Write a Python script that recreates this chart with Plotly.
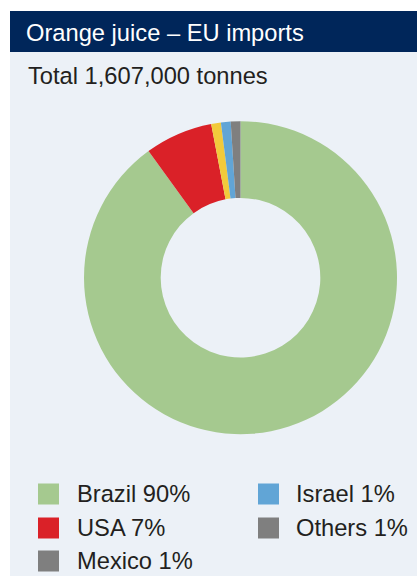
import plotly.graph_objects as go

# EU orange juice imports by origin (share of total, %)
origins = ["Brazil", "USA", "Mexico", "Israel", "Others"]
shares = [90, 7, 1, 1, 1]
total_tonnes = 1607000

slice_colors = ["#a5c98f", "#da2128", "#f2ca3c", "#61a5d6", "#7f7f7f"]
key_colors = ["#a5c98f", "#da2128", "#7f7f7f", "#61a5d6", "#7f7f7f"]

W, H = 417, 576
NAVY = "#00265a"
PANEL = "#ecf1f7"
INK = "#231f20"
FONT = "Liberation Sans, Arial, sans-serif"
FS = 23.7


def px_x(x):
    return x / W


def px_y(y):
    return 1 - y / H


fig = go.Figure()

# donut, centred at (240.5, 277.7) px with outer radius 156.5 px
cx, cy, r = 240.5, 277.7, 156.5
fig.add_trace(go.Pie(
    labels=origins,
    values=shares,
    hole=0.51,
    sort=False,
    direction="clockwise",
    rotation=0,
    marker=dict(colors=slice_colors, line=dict(width=0)),
    textinfo="none",
    hoverinfo="label+percent",
    showlegend=False,
    domain=dict(x=[px_x(cx - r), px_x(cx + r)], y=[px_y(cy + r), px_y(cy - r)]),
))

shapes = [
    # panel background and header bar
    dict(type="rect", xref="paper", yref="paper", x0=px_x(10), x1=1, y0=0, y1=px_y(11),
         fillcolor=PANEL, line=dict(width=0), layer="below"),
    dict(type="rect", xref="paper", yref="paper", x0=px_x(10), x1=1, y0=px_y(52), y1=px_y(11),
         fillcolor=NAVY, line=dict(width=0), layer="below"),
]

annotations = [
    dict(text="Orange juice – EU imports", x=px_x(24), y=px_y(33), xref="paper", yref="paper",
         xanchor="left", yanchor="middle", showarrow=False,
         font=dict(family=FONT, size=FS, color="white")),
    dict(text=f"Total {total_tonnes:,} tonnes", x=px_x(25.5), y=px_y(76), xref="paper", yref="paper",
         xanchor="left", yanchor="middle", showarrow=False,
         font=dict(family=FONT, size=FS, color=INK)),
]

# two-column key, filled column by column
col_swatch_x = [38, 258]
col_text_x = [74.5, 293.5]
row_y = [494, 528, 561]
sw = 21
for i, (name, pct) in enumerate(zip(origins, shares)):
    col, row = divmod(i, 3)
    x0 = col_swatch_x[col]
    yc = row_y[row]
    shapes.append(dict(type="rect", xref="paper", yref="paper",
                       x0=px_x(x0), x1=px_x(x0 + sw),
                       y0=px_y(yc + sw / 2), y1=px_y(yc - sw / 2),
                       fillcolor=key_colors[i], line=dict(width=0)))
    annotations.append(dict(text=f"{name} {pct}%", x=px_x(col_text_x[col]), y=px_y(yc),
                            xref="paper", yref="paper", xanchor="left", yanchor="middle",
                            showarrow=False, font=dict(family=FONT, size=FS, color=INK)))

fig.update_layout(
    width=W, height=H,
    margin=dict(l=0, r=0, t=0, b=0),
    paper_bgcolor="white",
    plot_bgcolor="white",
    shapes=shapes,
    annotations=annotations,
)

fig.write_html("out.html")
